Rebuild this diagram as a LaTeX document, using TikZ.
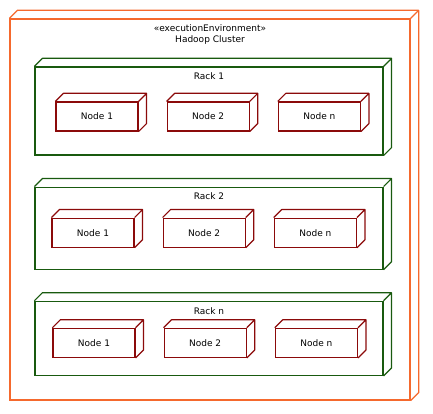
\documentclass[tikz,border=0pt]{standalone}
\usepackage{fontspec}
\setsansfont{DejaVu Sans}
\usepackage{tikz}
\usetikzlibrary{positioning}
\definecolor{clusterorange}{RGB}{245,105,45}
\definecolor{rackgreen}{RGB}{25,90,15}
\definecolor{nodered}{RGB}{139,10,10}
\newcommand{\cube}[3]{\draw[#3,line join=round] (#1.north west) -- ++(#2,#2) -- ([shift={(#2,#2)}]#1.north east) -- ([shift={(#2,#2)}]#1.south east) -- (#1.south east) (#1.north east) -- ++(#2,#2);}

\begin{document}
\begin{tikzpicture}[x=1pt,y=1pt,font=\sffamily\fontsize{9}{10}\selectfont,
	cluster/.style={draw=clusterorange,line width=1.3pt,minimum width=400pt,minimum height=381pt,inner sep=0pt},
	rack/.style={draw=rackgreen,line width=1.2pt,minimum width=348pt,inner sep=0pt},
	hnode/.style={draw=nodered,line width=1.2pt,minimum width=82pt,minimum height=29pt,inner sep=0pt}]
			\useasboundingbox (0,0) rectangle (433,413);
			\node[cluster]  (hadoop)  at (210,203.5) {};
			\cube{hadoop}{8}{draw=clusterorange,line width=1.3pt}
			\node[below=3pt of hadoop.north]  (stereo)  {«executionEnvironment»};
			\node[below=-3pt of stereo]  (title)  {Hadoop Cluster};

			\node[rack,minimum height=88pt,below right=48pt and 25pt of hadoop.north west]  (rack1)  {};
			\node[rack,minimum height=82pt,below=31pt of rack1]  (rack2)  {};
			\node[rack,minimum height=74pt,below=31pt of rack2]  (rackn)  {};
			\cube{rack1}{8}{draw=rackgreen,line width=1.2pt}
			\cube{rack2}{8}{draw=rackgreen,line width=1.2pt}
			\cube{rackn}{8}{draw=rackgreen,line width=1.2pt}
			\node[below=3pt of rack1.north]  (rack1label)  {Rack 1};
			\node[below=3pt of rack2.north]  (rack2label)  {Rack 2};
			\node[below=3pt of rackn.north]  (racknlabel)  {Rack n};

			\node[hnode,below right=35pt and 21pt of rack1.north west]  (r1node1)  {Node 1};
			\node[hnode,right=28pt of r1node1]  (r1node2)  {Node 2};
			\node[hnode,right=28pt of r1node2]  (r1noden)  {Node n};
			\node[hnode,below right=31pt and 17pt of rack2.north west]  (r2node1)  {Node 1};
			\node[hnode,right=28pt of r2node1]  (r2node2)  {Node 2};
			\node[hnode,right=28pt of r2node2]  (r2noden)  {Node n};
			\node[hnode,below right=27pt and 18pt of rackn.north west]  (rnnode1)  {Node 1};
			\node[hnode,right=28pt of rnnode1]  (rnnode2)  {Node 2};
			\node[hnode,right=28pt of rnnode2]  (rnnoden)  {Node n};
			\cube{r1node1}{8}{draw=nodered,line width=1.2pt}
			\cube{r1node2}{8}{draw=nodered,line width=1.2pt}
			\cube{r1noden}{8}{draw=nodered,line width=1.2pt}
			\cube{r2node1}{8}{draw=nodered,line width=1.2pt}
			\cube{r2node2}{8}{draw=nodered,line width=1.2pt}
			\cube{r2noden}{8}{draw=nodered,line width=1.2pt}
			\cube{rnnode1}{8}{draw=nodered,line width=1.2pt}
			\cube{rnnode2}{8}{draw=nodered,line width=1.2pt}
			\cube{rnnoden}{8}{draw=nodered,line width=1.2pt}
		\end{tikzpicture}
\end{document}
